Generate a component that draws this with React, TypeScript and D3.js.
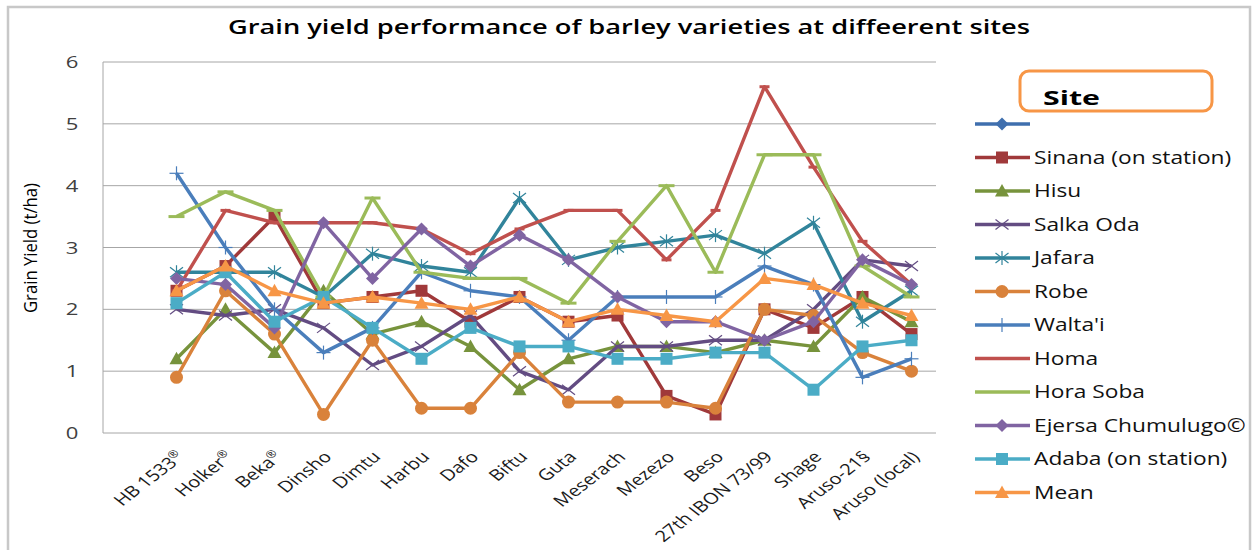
import React from "react";
import * as d3 from "d3";

const varieties = ["HB 1533®", "Holker®", "Beka®", "Dinsho", "Dimtu", "Harbu", "Dafo", "Biftu", "Guta", "Meserach", "Mezezo", "Beso", "27th IBON 73/99", "Shage", "Aruso-21§", "Aruso (local)"];
const yTicks = [0, 1, 2, 3, 4, 5, 6];

const sinana = [2.3, 2.7, 3.5, 2.1, 2.2, 2.3, 1.8, 2.2, 1.8, 1.9, 0.6, 0.3, 2.0, 1.7, 2.2, 1.6];
const hisu = [1.2, 2.0, 1.3, 2.3, 1.6, 1.8, 1.4, 0.7, 1.2, 1.4, 1.4, 1.3, 1.5, 1.4, 2.2, 1.8];
const salkaOda = [2.0, 1.9, 2.0, 1.7, 1.1, 1.4, 1.9, 1.0, 0.7, 1.4, 1.4, 1.5, 1.5, 2.0, 2.8, 2.7];
const jafara = [2.6, 2.6, 2.6, 2.2, 2.9, 2.7, 2.6, 3.8, 2.8, 3.0, 3.1, 3.2, 2.9, 3.4, 1.8, 2.3];
const robe = [0.9, 2.3, 1.6, 0.3, 1.5, 0.4, 0.4, 1.3, 0.5, 0.5, 0.5, 0.4, 2.0, 1.9, 1.3, 1.0];
const waltai = [4.2, 3.0, 2.0, 1.3, 1.7, 2.6, 2.3, 2.2, 1.5, 2.2, 2.2, 2.2, 2.7, 2.4, 0.9, 1.2];
const homa = [2.3, 3.6, 3.4, 3.4, 3.4, 3.3, 2.9, 3.3, 3.6, 3.6, 2.8, 3.6, 5.6, 4.3, 3.1, 2.4];
const horaSoba = [3.5, 3.9, 3.6, 2.2, 3.8, 2.6, 2.5, 2.5, 2.1, 3.1, 4.0, 2.6, 4.5, 4.5, 2.7, 2.2];
const ejersa = [2.5, 2.4, 1.7, 3.4, 2.5, 3.3, 2.7, 3.2, 2.8, 2.2, 1.8, 1.8, 1.5, 1.8, 2.8, 2.4];
const adaba = [2.1, 2.6, 1.8, 2.2, 1.7, 1.2, 1.7, 1.4, 1.4, 1.2, 1.2, 1.3, 1.3, 0.7, 1.4, 1.5];
const mean = [2.3, 2.7, 2.3, 2.1, 2.2, 2.1, 2.0, 2.2, 1.8, 2.0, 1.9, 1.8, 2.5, 2.4, 2.1, 1.9];

const seriesNames = ["", "Sinana (on station)", "Hisu", "Salka Oda", "Jafara", "Robe", "Walta'i", "Homa", "Hora Soba", "Ejersa Chumulugo©", "Adaba  (on station)", "Mean"];
const seriesValues: (number[] | null)[] = [null, sinana, hisu, salkaOda, jafara, robe, waltai, homa, horaSoba, ejersa, adaba, mean];
const seriesColors = ["#3F6FAE", "#A0393A", "#77933C", "#634C82", "#31849B", "#D9823B", "#4A7EBB", "#C0504D", "#9BBB59", "#8064A2", "#4BACC6", "#F79646"];
const seriesMarkers = ["diamond", "square", "triangle", "x", "star", "circle", "plus", "dash", "bar", "diamond", "square", "triangle"];

const W = 1255, H = 550;
const plotL = 103, plotR = 936, plotT = 62, plotB = 433;
const SX = 1.3; // horizontal stretch of the text, as in the picture

const x = d3.scaleBand<string>().domain(["", ...varieties]).range([plotL, plotR]).paddingInner(0).paddingOuter(0);
const y = d3.scaleLinear().domain([0, 6]).range([plotB, plotT]);
const cx = (c: string) => (x(c) as number) + x.bandwidth() / 2;

function Marker({ t, px, py, color, legend }: { t: string; px: number; py: number; color: string; legend?: boolean }) {
  const s = 6.5;
  switch (t) {
    case "diamond":
      return <polygon points={`${px},${py - s} ${px + s},${py} ${px},${py + s} ${px - s},${py}`} fill={color} />;
    case "square":
      return <rect x={px - 6} y={py - 6} width={12} height={12} fill={color} />;
    case "triangle":
      return <polygon points={`${px},${py - 7} ${px + 7},${py + 5.5} ${px - 7},${py + 5.5}`} fill={color} />;
    case "circle":
      return <circle cx={px} cy={py} r={6.5} fill={color} />;
    case "x":
      return (
        <g stroke={color} strokeWidth={1.2}>
          <line x1={px - 6.5} y1={py - 5} x2={px + 6.5} y2={py + 5} />
          <line x1={px - 6.5} y1={py + 5} x2={px + 6.5} y2={py - 5} />
        </g>
      );
    case "star":
      return (
        <g stroke={color} strokeWidth={1.2}>
          <line x1={px - 6.5} y1={py - 5} x2={px + 6.5} y2={py + 5} />
          <line x1={px - 6.5} y1={py + 5} x2={px + 6.5} y2={py - 5} />
          <line x1={px} y1={py - 7} x2={px} y2={py + 7} />
        </g>
      );
    case "plus":
      return (
        <g stroke={color} strokeWidth={1.2}>
          <line x1={px - 7} y1={py} x2={px + 7} y2={py} />
          <line x1={px} y1={py - 7} x2={px} y2={py + 7} />
        </g>
      );
    case "dash":
      return legend ? null : <line x1={px - 5} y1={py} x2={px + 5} y2={py} stroke={color} strokeWidth={3} />;
    case "bar":
      return legend ? null : <line x1={px - 8} y1={py} x2={px + 8} y2={py} stroke={color} strokeWidth={3} />;
    default:
      return null;
  }
}

function XLabel({ label, px }: { label: string; px: number }) {
  const sup = label.endsWith("®");
  const base = sup ? label.slice(0, -1) : label;
  return (
    <text transform={`translate(${px - 1},${450}) scale(${SX},1) rotate(-45)`} textAnchor="end" dy="0.72em" fontSize={15.5} fontFamily="'Open Sans', sans-serif" fill="#1a1a1a">
      {base}
      {sup ? <tspan dy={-6} fontSize={10}>®</tspan> : null}
    </text>
  );
}

export default function App() {
  const line = d3.line<number>().x((_, i) => cx(varieties[i])).y((d) => y(d));
  const legendY0 = 124, legendStep = 33.5;
  return (
    <svg width={W} height={H} style={{ position: "absolute", left: 0, top: 0, background: "#fff" }}>
      <rect x={0} y={0} width={W} height={H} fill="#fff" />
      <rect x={8} y={7} width={1242} height={560} fill="#fff" stroke="#c8c8c8" strokeWidth={2.5} />
      <text x={629} y={34} textAnchor="middle" fontSize={19} fontWeight="600" fontFamily="'Open Sans', sans-serif" textLength={802} lengthAdjust="spacingAndGlyphs" fill="#000">
        Grain yield performance of barley varieties at diffeerent sites
      </text>
      {/* gridlines */}
      {yTicks.map((t) => (
        <line key={t} x1={plotL} x2={plotR} y1={y(t)} y2={y(t)} stroke="#a6a6a6" strokeWidth={1} />
      ))}
      <line x1={plotL} x2={plotL} y1={plotT} y2={plotB} stroke="#a6a6a6" strokeWidth={1} />
      {yTicks.map((t) => (
        <text key={t} transform={`translate(72,${y(t)}) scale(${SX},1)`} dy="0.36em" textAnchor="middle" fontSize={17} fontFamily="'Open Sans', sans-serif" fill="#404040">
          {t}
        </text>
      ))}
      <text transform={`translate(37,248) rotate(-90)`} textAnchor="middle" fontSize={18} fontFamily="'Open Sans', sans-serif" textLength={130} lengthAdjust="spacingAndGlyphs" fill="#000">
        Grain Yield (t/ha)
      </text>
      {varieties.map((v) => (
        <XLabel key={v} label={v} px={cx(v)} />
      ))}
      {/* series */}
      {seriesValues.map((vals, si) =>
        vals ? (
          <g key={si}>
            <path d={line(vals) as string} fill="none" stroke={seriesColors[si]} strokeWidth={3.4} strokeLinejoin="round" />
            {vals.map((v, i) => (
              <Marker key={i} t={seriesMarkers[si]} px={cx(varieties[i])} py={y(v)} color={seriesColors[si]} />
            ))}
          </g>
        ) : null
      )}
      {/* legend */}
      <rect x={1020} y={71} width={192} height={40} rx={9} ry={9} fill="#fff" stroke="#F79646" strokeWidth={3} />
      <text x={1043} y={105} fontSize={20} fontWeight="bold" fontFamily="'Open Sans', sans-serif" textLength={57} lengthAdjust="spacingAndGlyphs" fill="#000">Site</text>
      {seriesNames.map((n, i) => {
        const ly = legendY0 + i * legendStep;
        return (
          <g key={i}>
            <line x1={975} x2={1030} y1={ly} y2={ly} stroke={seriesColors[i]} strokeWidth={3.4} />
            <Marker t={seriesMarkers[i]} px={1002} py={ly} color={seriesColors[i]} legend />
            <text transform={`translate(1034,${ly}) scale(${SX},1)`} dy="0.36em" fontSize={17.5} fontFamily="'Open Sans', sans-serif" fill="#111">
              {n}
            </text>
          </g>
        );
      })}
    </svg>
  );
}
